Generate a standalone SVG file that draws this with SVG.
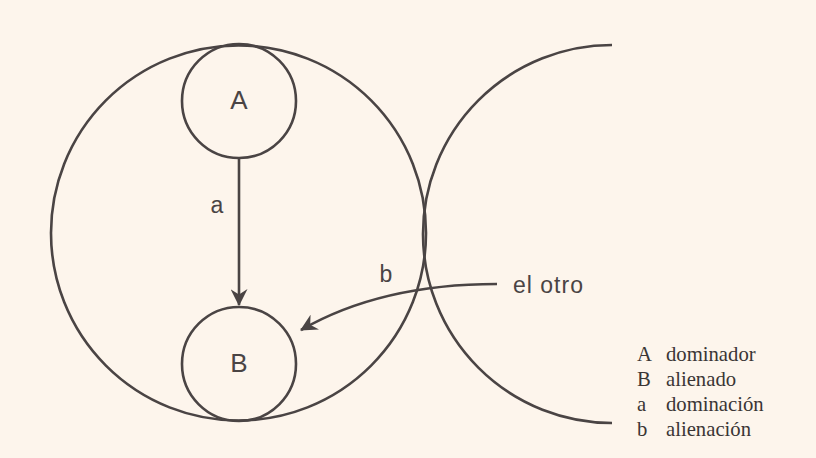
<svg xmlns="http://www.w3.org/2000/svg" width="816" height="458" viewBox="0 0 816 458">
<style>
.ln{fill:none;stroke:#4a4444;stroke-width:2.6}
.sans{font-family:"Liberation Sans","DejaVu Sans",sans-serif;fill:#4a4444}
.serif{font-family:"Liberation Serif","DejaVu Serif",serif;fill:#3a3535;font-size:20.7px}
</style>
<defs>
<marker id="arr" markerUnits="userSpaceOnUse" viewBox="0 0 16 16" refX="15" refY="8" markerWidth="17" markerHeight="17" orient="auto">
<path d="M0,0 L16,8 L0,16 L5,8 z" fill="#4a4444"/>
</marker>
</defs>
<rect width="816" height="458" fill="#fdf5ec"/>
<g id="outer"><circle class="ln" cx="238.5" cy="233" r="187.5"/></g>
<g id="other"><path class="ln" d="M612,45 A189,189 0 0 0 612,423"/></g>
<g id="A"><circle class="ln" cx="239" cy="101" r="57"/><text class="sans" x="239" y="109" font-size="26" text-anchor="middle">A</text></g>
<g id="B"><circle class="ln" cx="239" cy="364" r="57"/><text class="sans" x="239" y="372" font-size="26" text-anchor="middle">B</text></g>
<g id="connectors">
<line class="ln" x1="239" y1="158" x2="239" y2="305" stroke-width="1.8" marker-end="url(#arr)"/>
<path class="ln" d="M497,284 C430,284 360,296 301,330" stroke-width="1.8" marker-end="url(#arr)"/>
</g>
<g id="labels">
<text class="sans" x="217" y="213" font-size="23" text-anchor="middle">a</text>
<text class="sans" x="386" y="282" font-size="23" text-anchor="middle">b</text>
<text class="sans" x="513" y="293" font-size="23" letter-spacing="1">el otro</text>
</g>
<g id="legend">
<text class="serif" x="637" y="361">A</text><text class="serif" x="666" y="361">dominador</text>
<text class="serif" x="637" y="386">B</text><text class="serif" x="666" y="386">alienado</text>
<text class="serif" x="637" y="411">a</text><text class="serif" x="666" y="411">dominación</text>
<text class="serif" x="637" y="436">b</text><text class="serif" x="666" y="436">alienación</text>
</g>
</svg>
